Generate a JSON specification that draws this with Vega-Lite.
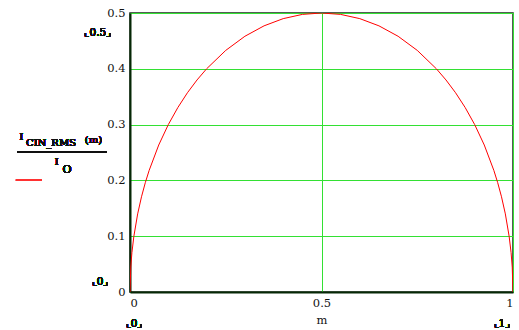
{
  "$schema": "https://vega.github.io/schema/vega-lite/v6.json",
  "width": 383,
  "height": 279,
  "autosize": {"type": "none"},
  "padding": {"left": 130, "top": 13, "right": 6, "bottom": 38},
  "background": "white",
  "config": {
    "view": {"stroke": "#1a2a1a", "strokeWidth": 1.5},
    "font": "DejaVu Serif",
    "axis": {
      "labelFont": "DejaVu Serif",
      "labelFontSize": 11.5,
      "labelColor": "#111111",
      "titleFont": "DejaVu Serif",
      "titleFontSize": 11.5,
      "titleFontWeight": "normal",
      "titleColor": "#111111",
      "ticks": false,
      "domainColor": "#062806",
      "domainWidth": 2,
      "gridColor": "#33e033",
      "gridWidth": 1,
      "gridOpacity": 1
    },
    "text": {"font": "DejaVu Serif", "color": "#111111", "fontWeight": "normal"}
  },
  "data": {
    "values": [
      {"m": 0, "r": 0},
      {"m": 0.002, "r": 0.0447},
      {"m": 0.005, "r": 0.0705},
      {"m": 0.01, "r": 0.0995},
      {"m": 0.02, "r": 0.14},
      {"m": 0.03, "r": 0.1706},
      {"m": 0.04, "r": 0.196},
      {"m": 0.05, "r": 0.2179},
      {"m": 0.075, "r": 0.2634},
      {"m": 0.1, "r": 0.3},
      {"m": 0.125, "r": 0.3307},
      {"m": 0.15, "r": 0.3571},
      {"m": 0.175, "r": 0.38},
      {"m": 0.2, "r": 0.4},
      {"m": 0.25, "r": 0.433},
      {"m": 0.3, "r": 0.4583},
      {"m": 0.35, "r": 0.477},
      {"m": 0.4, "r": 0.4899},
      {"m": 0.45, "r": 0.4975},
      {"m": 0.5, "r": 0.5},
      {"m": 0.55, "r": 0.4975},
      {"m": 0.6, "r": 0.4899},
      {"m": 0.65, "r": 0.477},
      {"m": 0.7, "r": 0.4583},
      {"m": 0.75, "r": 0.433},
      {"m": 0.8, "r": 0.4},
      {"m": 0.825, "r": 0.38},
      {"m": 0.85, "r": 0.3571},
      {"m": 0.875, "r": 0.3307},
      {"m": 0.9, "r": 0.3},
      {"m": 0.925, "r": 0.2634},
      {"m": 0.95, "r": 0.2179},
      {"m": 0.96, "r": 0.196},
      {"m": 0.97, "r": 0.1706},
      {"m": 0.98, "r": 0.14},
      {"m": 0.99, "r": 0.0995},
      {"m": 0.995, "r": 0.0705},
      {"m": 0.998, "r": 0.0447},
      {"m": 1, "r": 0}
    ]
  },
  "layer": [
    {
      "mark": {"type": "line", "color": "#ff0000", "strokeWidth": 1, "clip": true},
      "encoding": {
        "x": {
          "field": "m", "type": "quantitative",
          "scale": {"domain": [0, 1], "nice": false},
          "axis": {"values": [0, 0.5, 1], "format": "~g", "grid": true, "labelPadding": 5, "title": "m", "titlePadding": 6}
        },
        "y": {
          "field": "r", "type": "quantitative",
          "scale": {"domain": [0, 0.5], "nice": false},
          "axis": {"values": [0, 0.1, 0.2, 0.3, 0.4, 0.5], "format": "~g", "grid": true, "labelPadding": 5, "title": null}
        }
      }
    },
    {
      "mark": {"type": "text", "fontSize": 10.5, "align": "center", "baseline": "middle"},
      "encoding": {
        "x": {"datum": -0.084, "type": "quantitative", "scale": {"domain": [0, 1], "nice": false}},
        "y": {"datum": 0.464, "type": "quantitative", "scale": {"domain": [0, 0.5], "nice": false}},
        "text": {"value": "⌞0.5⌟"}
      }
    },
    {
      "mark": {"type": "text", "fontSize": 10.5, "align": "center", "baseline": "middle"},
      "encoding": {
        "x": {"datum": -0.078, "type": "quantitative", "scale": {"domain": [0, 1], "nice": false}},
        "y": {"datum": 0.018, "type": "quantitative", "scale": {"domain": [0, 0.5], "nice": false}},
        "text": {"value": "⌞0⌟"}
      }
    },
    {
      "mark": {"type": "text", "fontSize": 10.5, "align": "center", "baseline": "middle"},
      "encoding": {
        "x": {"datum": 0.0104, "type": "quantitative", "scale": {"domain": [0, 1], "nice": false}},
        "y": {"datum": -0.057, "type": "quantitative", "scale": {"domain": [0, 0.5], "nice": false}},
        "text": {"value": "⌞0⌟"}
      }
    },
    {
      "mark": {"type": "text", "fontSize": 10.5, "align": "center", "baseline": "middle"},
      "encoding": {
        "x": {"datum": 0.971, "type": "quantitative", "scale": {"domain": [0, 1], "nice": false}},
        "y": {"datum": -0.057, "type": "quantitative", "scale": {"domain": [0, 0.5], "nice": false}},
        "text": {"value": "⌞1⌟"}
      }
    },
    {
      "mark": {"type": "text", "fontSize": 9.5, "align": "center", "baseline": "middle"},
      "encoding": {
        "x": {"datum": -0.2833, "type": "quantitative", "scale": {"domain": [0, 1], "nice": false}},
        "y": {"datum": 0.2778, "type": "quantitative", "scale": {"domain": [0, 0.5], "nice": false}},
        "text": {"value": "I"}
      }
    },
    {
      "mark": {"type": "text", "fontSize": 10, "align": "left", "baseline": "middle"},
      "encoding": {
        "x": {"datum": -0.2715, "type": "quantitative", "scale": {"domain": [0, 1], "nice": false}},
        "y": {"datum": 0.267, "type": "quantitative", "scale": {"domain": [0, 0.5], "nice": false}},
        "text": {"value": "CIN_RMS"}
      }
    },
    {
      "mark": {"type": "text", "fontSize": 10, "align": "center", "baseline": "middle"},
      "encoding": {
        "x": {"datum": -0.0953, "type": "quantitative", "scale": {"domain": [0, 1], "nice": false}},
        "y": {"datum": 0.2724, "type": "quantitative", "scale": {"domain": [0, 0.5], "nice": false}},
        "text": {"value": "(m)"}
      }
    },
    {
      "mark": {"type": "rule", "color": "#111111", "strokeWidth": 1},
      "encoding": {
        "x": {"datum": -0.295, "type": "quantitative", "scale": {"domain": [0, 1], "nice": false}},
        "x2": {"datum": -0.0601},
        "y": {"datum": 0.2509, "type": "quantitative", "scale": {"domain": [0, 0.5], "nice": false}}
      }
    },
    {
      "mark": {"type": "text", "fontSize": 9.5, "align": "center", "baseline": "middle"},
      "encoding": {
        "x": {"datum": -0.1919, "type": "quantitative", "scale": {"domain": [0, 1], "nice": false}},
        "y": {"datum": 0.233, "type": "quantitative", "scale": {"domain": [0, 0.5], "nice": false}},
        "text": {"value": "I"}
      }
    },
    {
      "mark": {"type": "text", "fontSize": 11, "align": "center", "baseline": "middle"},
      "encoding": {
        "x": {"datum": -0.1645, "type": "quantitative", "scale": {"domain": [0, 1], "nice": false}},
        "y": {"datum": 0.2195, "type": "quantitative", "scale": {"domain": [0, 0.5], "nice": false}},
        "text": {"value": "O"}
      }
    },
    {
      "mark": {"type": "rule", "color": "#ff3333", "strokeWidth": 1},
      "encoding": {
        "x": {"datum": -0.2977, "type": "quantitative", "scale": {"domain": [0, 1], "nice": false}},
        "x2": {"datum": -0.2298},
        "y": {"datum": 0.2007, "type": "quantitative", "scale": {"domain": [0, 0.5], "nice": false}}
      }
    }
  ]
}
